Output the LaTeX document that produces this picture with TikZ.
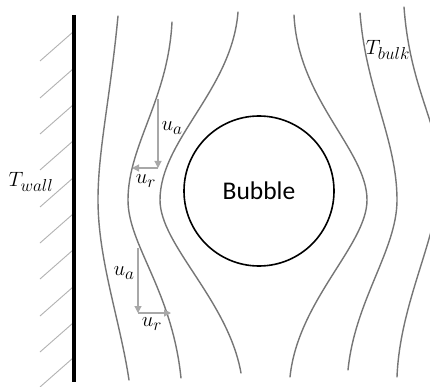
\documentclass[tikz,border=0pt]{standalone}
\usepackage{fontspec}
\setmainfont{Carlito}
\DeclareMathSizes{21}{21}{16}{12}
\usetikzlibrary{arrows.meta}
\definecolor{streamgray}{RGB}{118,118,118}
\definecolor{arrowgray}{RGB}{168,168,168}
\definecolor{hatchgray}{RGB}{178,178,178}
\begin{document}
\begin{tikzpicture}[x=1pt,y=-1pt,
  stream/.style={draw=streamgray, line width=1.4pt, line cap=round},
  hatch/.style={draw=hatchgray, line width=0.9pt},
  vel/.style={draw=arrowgray, line width=1.1pt, -{Triangle[length=7pt,width=7pt]}},
  mlabel/.style={font=\fontsize{21}{25}\selectfont, inner sep=0pt}]
\useasboundingbox (0,0) rectangle (430,387);
\fill[white] (0,0) rectangle (430,387);
% hatching
\foreach \y in {32,69,105,141,178,214,250,287,323,358}
  \draw[hatch] (73,\y) -- (40,\y+29);
% wall
\draw[line width=4.2pt, black] (74,15) -- (74,382);
% streamlines
\draw[stream] (118,16) .. controls (110,100) and (98,150) .. (98,200)
  .. controls (98,260) and (120,320) .. (129,380);
\draw[stream] (172,22) .. controls (168,100) and (128,145) .. (128,200)
  .. controls (128,245) and (172,290) .. (181,378);
\draw[stream] (238,12) .. controls (232,90) and (160,140) .. (160,200)
  .. controls (160,245) and (228,300) .. (241,373);
\draw[stream] (294,15) .. controls (298,100) and (367,150) .. (367,200)
  .. controls (367,245) and (298,300) .. (290,377);
\draw[stream] (360,13) .. controls (366,90) and (397,140) .. (397,200)
  .. controls (397,250) and (355,300) .. (348,370);
\begin{scope}
\clip (0,0) rectangle (430,387);
\draw[stream] (404,7) .. controls (410,90) and (440,125) .. (440,175)
  .. controls (440,235) and (400,300) .. (397,377);
\end{scope}
% bubble
\node[circle, draw=black, line width=1.6pt, minimum size=150pt, inner sep=0pt,
  font=\fontsize{25.5}{30}\selectfont] (bubble) at (259,191) {Bubble};
% velocity arrows (upper)
\coordinate (ua1s) at (158,99);
\coordinate (ua1e) at (158,168);
\coordinate (ur1e) at (132,168);
\draw[vel] (ua1s) -- (ua1e);
\draw[vel] (ua1e) -- (ur1e);
% velocity arrows (lower)
\coordinate (ua2s) at (138,248);
\coordinate (ua2e) at (138,313);
\coordinate (ur2e) at (171,313);
\draw[vel] (ua2s) -- (ua2e);
\draw[vel] (ua2e) -- (ur2e);
% labels
\node[mlabel] (twall) at (31,182) {$T_{wall}$};
\node[mlabel] (tbulk) at (388,50) {$T_{bulk}$};
\node[mlabel] (ualab1) at (172,128) {$u_a$};
\node[mlabel] (urlab1) at (146,181) {$u_r$};
\node[mlabel] (ualab2) at (124,273) {$u_a$};
\node[mlabel] (urlab2) at (152,324) {$u_r$};
\end{tikzpicture}
\end{document}
